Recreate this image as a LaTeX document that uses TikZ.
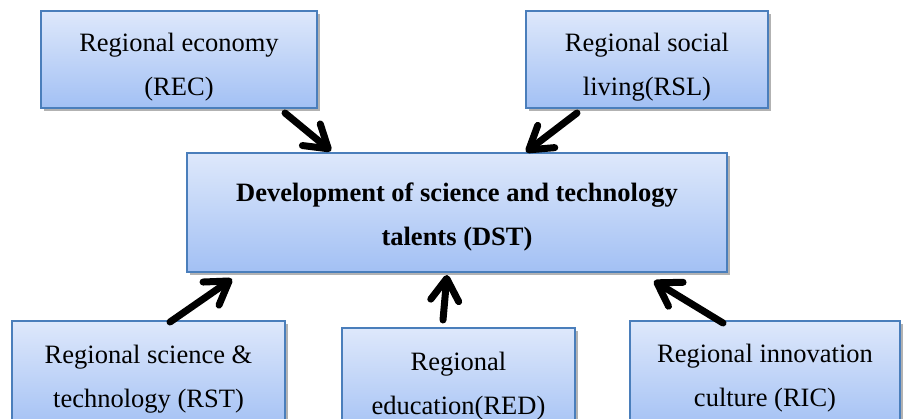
\documentclass[tikz,border=0pt]{standalone}
\usepackage{fontspec}
\setmainfont{Liberation Serif}
\usetikzlibrary{arrows.meta,shadows}
\definecolor{topc}{HTML}{DEE8FB}
\definecolor{botc}{HTML}{A2C0F4}
\definecolor{bordc}{HTML}{4A7EBB}
\tikzset{
  box/.style={draw=bordc, line width=1.4pt, top color=topc, bottom color=botc,
    drop shadow={shadow xshift=2.5pt, shadow yshift=-3pt, opacity=0.3, fill=black},
    inner sep=0pt},
  txt/.style={inner sep=0pt, align=center, font=\fontsize{26.5}{44}\selectfont},
  arr/.style={line width=7pt, line cap=round, black,
    -{Straight Barb[round, length=22pt, width=28pt]}}
}
\begin{document}
\begin{tikzpicture}[x=1pt, y=-1pt]
\path[use as bounding box] (0,0) rectangle (907,419);
\clip (0,0) rectangle (907,419);
\node[box, minimum width=276pt, minimum height=97pt] (REC) at (179,59.5) {};
\node[txt] (RECt) at ([yshift=-8pt]REC.center) {Regional economy\\(REC)};
\node[box, minimum width=242pt, minimum height=97pt] (RSL) at (647,59.5) {};
\node[txt] (RSLt) at ([yshift=-8pt]RSL.center) {Regional social\\living(RSL)};
\node[box, minimum width=540pt, minimum height=119pt] (DST) at (457,212.5) {};
\node[txt] (DSTt) at ([yshift=-4pt]DST.center) {\bfseries Development of science and technology\\\bfseries talents (DST)};
\node[box, minimum width=273pt, minimum height=110pt] (RST) at (148.5,376) {};
\node[txt] (RSTt) at ([yshift=-3pt]RST.center) {Regional science \&\\technology (RST)};
\node[box, minimum width=233pt, minimum height=110pt] (RED) at (458.5,383) {};
\node[txt] (REDt) at ([yshift=-3pt]RED.center) {Regional\\education(RED)};
\node[box, minimum width=270pt, minimum height=110pt] (RIC) at (765,376) {};
\node[txt] (RICt) at ([yshift=-2pt]RIC.center) {Regional innovation\\culture (RIC)};
\coordinate (a1) at (285,113);
\coordinate (b1) at (331,151);
\coordinate (a2) at (577,113);
\coordinate (b2) at (526,152);
\coordinate (a3) at (170,322);
\coordinate (b3) at (232,279);
\coordinate (a4) at (443,320);
\coordinate (b4) at (447,275);
\coordinate (a5) at (723,323);
\coordinate (b5) at (654,281);
\draw[arr] (a1) -- (b1);
\draw[arr] (a2) -- (b2);
\draw[arr] (a3) -- (b3);
\draw[arr] (a4) -- (b4);
\draw[arr] (a5) -- (b5);
\end{tikzpicture}
\end{document}
